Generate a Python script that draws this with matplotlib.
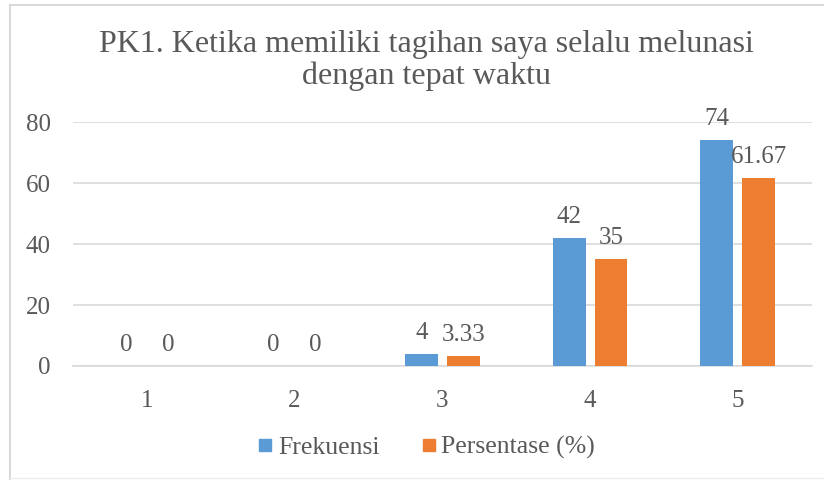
import matplotlib
matplotlib.use("Agg")
import matplotlib.pyplot as plt
from matplotlib.lines import Line2D
import numpy as np

categories = ["1", "2", "3", "4", "5"]
frekuensi = [0, 0, 4, 42, 74]
persentase = [0, 0, 3.33, 35, 61.67]
frek_labels = ["0", "0", "4", "42", "74"]
pers_labels = ["0", "0", "3.33", "35", "61.67"]
series_names = ["Frekuensi", "Persentase (%)"]
title = "PK1. Ketika memiliki tagihan saya selalu melunasi\ndengan tepat waktu"

BLUE = "#5B9BD5"
ORANGE = "#ED7D31"
TEXT = "#595959"
GRID = "#D9D9D9"

plt.rcParams["font.family"] = ["Liberation Serif", "DejaVu Serif"]

fig = plt.figure(figsize=(8.24, 4.8), dpi=100)
ax = fig.add_axes([0.0886, 0.2375, 0.8964, 0.5083])

x = np.arange(len(categories))
w = 0.223
off = 0.142
b1 = ax.bar(x - off, frekuensi, w, color=BLUE, zorder=3)
b2 = ax.bar(x + off, persentase, w, color=ORANGE, zorder=3)

# data labels above each bar
for bars, labels in ((b1, frek_labels), (b2, pers_labels)):
    for rect, lab in zip(bars, labels):
        ax.annotate(lab, (rect.get_x() + rect.get_width() / 2, rect.get_height()),
                    xytext=(0, 11), textcoords="offset points",
                    ha="center", va="baseline", fontsize=18, color=TEXT)

ax.set_xlim(-0.5, len(categories) - 0.5)
ax.set_ylim(0, 80)
ax.set_yticks([0, 20, 40, 60, 80])
ax.set_xticks(x)
ax.set_xticklabels(categories)
ax.tick_params(axis="both", length=0, labelsize=18, labelcolor=TEXT)
ax.tick_params(axis="y", pad=16)
ax.tick_params(axis="x", pad=17)
ax.yaxis.grid(True, color=GRID, linewidth=1.2, zorder=0)
for s in ("top", "right", "left"):
    ax.spines[s].set_visible(False)
ax.spines["bottom"].set_color(GRID)
ax.spines["bottom"].set_linewidth(1.2)

fig.text(0.518, 0.937, title, ha="center", va="top", fontsize=23,
         color=TEXT, linespacing=1.1)

handles = [Line2D([], [], marker="s", linestyle="", markersize=8, color=c)
           for c in (BLUE, ORANGE)]
fig.legend(handles, series_names, loc="center", bbox_to_anchor=(0.516, 0.068),
           ncol=2, frameon=False, fontsize=18.5, labelcolor=TEXT,
           handletextpad=0.1, columnspacing=1.5, handlelength=0.8)

# outer chart border
fig.add_artist(Line2D([0.012, 0.012], [0.0, 0.99], transform=fig.transFigure,
                      color=GRID, linewidth=1.5))
fig.add_artist(Line2D([0.012, 1.0], [0.99, 0.99], transform=fig.transFigure,
                      color=GRID, linewidth=1.5))
fig.add_artist(Line2D([0.012, 1.0], [0.004, 0.004], transform=fig.transFigure,
                      color="#EEEEEE", linewidth=1))

fig.savefig("out.png", dpi=100)
